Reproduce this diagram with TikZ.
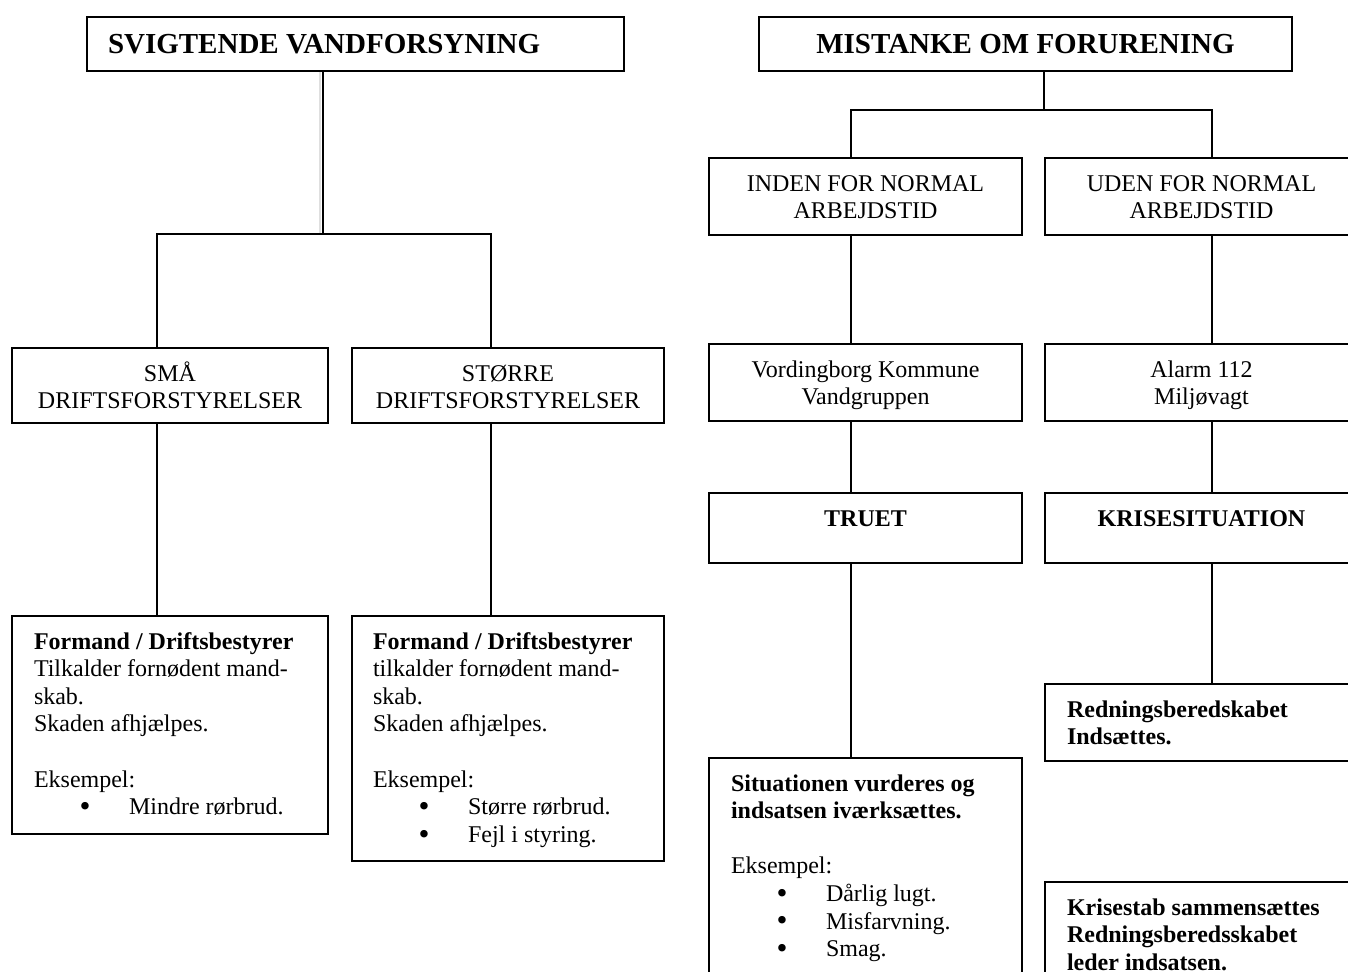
\documentclass[tikz,border=0pt]{standalone}
\usepackage{fontspec}
\setmainfont{Liberation Serif}
\newcommand{\bul}[1]{\hspace*{22.8pt}\makebox[24.7pt][l]{\raisebox{-0.9pt}[0pt][0pt]{\scalebox{1.3}{\textbullet}}}#1}
\newcommand{\bxt}[4]{\parbox[c][#1][t]{#2}{#3\rule{0pt}{16.5pt}#4}}
\begin{document}
\begin{tikzpicture}[x=0.5pt,y=-0.5pt,
  box/.style={draw, line width=1pt, inner sep=0pt, anchor=north west,
    font=\fontsize{12}{13.8}\selectfont},
  ttl/.style={box, minimum height=27pt, font=\fontsize{14.5}{17}\selectfont\bfseries},
  conn/.style={line width=1pt, line join=miter}]
\useasboundingbox (0,0) rectangle (1348,971);
\fill[white] (0,0) rectangle (1348,971);
\clip (0,0) rectangle (1348,971);

% ---------- left tree ----------
\node[ttl, minimum width=268.5pt] (T1) at (86,16)
  {\makebox[268.5pt][l]{\hspace{10.5pt}SVIGTENDE VANDFORSYNING}};
\node[box, minimum width=158pt, minimum height=37.5pt] (A) at (11,347)
  {\bxt{37.5pt}{136pt}{\centering}{SMÅ\\DRIFTSFORSTYRELSER}};
\node[box, minimum width=156pt, minimum height=37.5pt] (B) at (351,347)
  {\bxt{37.5pt}{134pt}{\centering}{STØRRE\\DRIFTSFORSTYRELSER}};
\node[box, minimum width=158pt, minimum height=109pt] (C) at (11,615)
  {\bxt{109pt}{136pt}{\raggedright}{\textbf{Formand / Driftsbestyrer}\\
    Tilkalder fornødent mand-\\skab.\\Skaden afhjælpes.\\\mbox{}\\Eksempel:\\
    \bul{Mindre rørbrud.}}};
\node[box, minimum width=156pt, minimum height=122.5pt] (D) at (351,615)
  {\bxt{122.5pt}{135pt}{\raggedright}{\textbf{Formand / Driftsbestyrer}\\
    tilkalder fornødent mand-\\skab.\\Skaden afhjælpes.\\\mbox{}\\Eksempel:\\
    \bul{Større rørbrud.}\\\bul{Fejl i styring.}}};

\coordinate (t1j) at (323,234);
\coordinate (la) at (157,234);
\coordinate (lb) at (491,234);
\draw[line width=1pt, gray!25] ([xshift=-1.5pt]T1.south -| t1j) -- ([xshift=-1.5pt]t1j);
\draw[conn] (T1.south -| t1j) -- (t1j);
\draw[conn] (la |- A.north) -- (la) -- (lb) -- (lb |- B.north);
\draw[conn] (la |- A.south) -- (la |- C.north);
\draw[conn] (lb |- B.south) -- (lb |- D.north);

% ---------- right tree ----------
\node[ttl, minimum width=266.5pt] (T2) at (758,16) {MISTANKE OM FORURENING};
\node[box, minimum width=156.5pt, minimum height=38.5pt] (IN) at (708,157)
  {\bxt{38.5pt}{134.5pt}{\centering}{INDEN FOR NORMAL\\ARBEJDSTID}};
\node[box, minimum width=156.5pt, minimum height=38.5pt] (UD) at (1044,157)
  {\bxt{38.5pt}{134.5pt}{\centering}{UDEN FOR NORMAL\\ARBEJDSTID}};
\node[box, minimum width=156.5pt, minimum height=38.5pt] (VK) at (708,343)
  {\bxt{38.5pt}{134.5pt}{\centering}{Vordingborg Kommune\\Vandgruppen}};
\node[box, minimum width=156.5pt, minimum height=38.5pt] (AL) at (1044,343)
  {\bxt{38.5pt}{134.5pt}{\centering}{Alarm 112\\Miljøvagt}};
\node[box, minimum width=156.5pt, minimum height=35pt] (TR) at (708,492)
  {\bxt{35pt}{134.5pt}{\centering}{\textbf{TRUET}}};
\node[box, minimum width=156.5pt, minimum height=35pt] (KR) at (1044,492)
  {\bxt{35pt}{134.5pt}{\centering}{\textbf{KRISESITUATION}}};
\node[box, minimum width=156.5pt, minimum height=38.5pt] (RB) at (1044,683)
  {\bxt{38.5pt}{134.5pt}{\raggedright}{\textbf{Redningsberedskabet}\\\textbf{Indsættes.}}};
\node[box, minimum width=156.5pt, minimum height=125pt] (SI) at (708,757)
  {\bxt{125pt}{134.5pt}{\raggedright}{\textbf{Situationen vurderes og}\\
    \textbf{indsatsen iværksættes.}\\\mbox{}\\Eksempel:\\
    \bul{Dårlig lugt.}\\\bul{Misfarvning.}\\\bul{Smag.}}};
\node[box, minimum width=156.5pt, minimum height=60pt] (KS) at (1044,881)
  {\bxt{60pt}{134.5pt}{\raggedright}{\textbf{Krisestab sammensættes}\\
    \textbf{Redningsberedsskabet}\\\textbf{leder indsatsen.}}};

\coordinate (t2j) at (1044,110);
\coordinate (ra) at (851,110);
\coordinate (rb) at (1212,110);
\draw[conn] (T2.south -| t2j) -- (t2j);
\draw[conn] (ra |- IN.north) -- (ra) -- (rb) -- (rb |- UD.north);
\draw[conn] (ra |- IN.south) -- (ra |- VK.north);
\draw[conn] (rb |- UD.south) -- (rb |- AL.north);
\draw[conn] (ra |- VK.south) -- (ra |- TR.north);
\draw[conn] (rb |- AL.south) -- (rb |- KR.north);
\draw[conn] (ra |- TR.south) -- (ra |- SI.north);
\draw[conn] (rb |- KR.south) -- (rb |- RB.north);
\end{tikzpicture}
\end{document}
